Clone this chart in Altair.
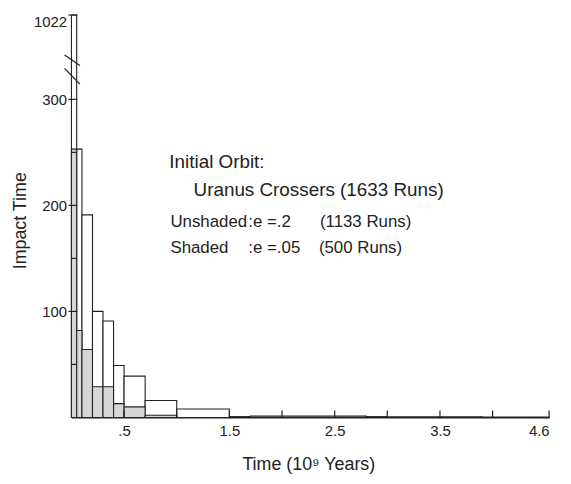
import altair as alt
import pandas as pd

# Histogram bins (10^9 years)
bin_lo = [0.0, 0.05, 0.1, 0.2, 0.3, 0.4, 0.5, 0.7, 1.0, 1.5, 1.7, 2.8, 3.0, 3.9]
bin_hi = [0.05, 0.1, 0.2, 0.3, 0.4, 0.5, 0.7, 1.0, 1.5, 1.7, 2.8, 3.0, 3.9, 4.6]
# Unshaded (e = .2) and shaded (e = .05) counts
unshaded = [1022, 253, 191, 100, 91, 49, 39, 16, 8, 0.8, 1.2, 0.8, 0.5, 0.3]
shaded = [253, 82, 64, 29, 29, 13, 10, 2, 0, 0, 0, 0, 0, 0]

x_label_values = [0.5, 1.5, 2.5, 3.5, 4.6]
x_tick_values = [0.5, 1.0, 1.5, 2.0, 2.5, 3.0, 3.5, 4.0, 4.6]
y_label_values = [100, 200, 300, 1022]
y_major_ticks = [100, 200, 300, 1022]
y_minor_ticks = [50, 150, 250]

head_text = ["Initial Orbit:", "Uranus Crossers (1633 Runs)"]
head_x = [0.93, 1.16]
head_y = [235, 209]

leg_text = ["Unshaded", ":e =.2", "(1133 Runs)",
            "Shaded", ":e =.05", "(500 Runs)"]
leg_x = [0.94, 1.68, 2.36, 0.94, 1.68, 2.35]
leg_y = [180, 180, 180, 155, 155, 155]

# axis break marks (data coords)
brk_x = [-0.065, -0.065]
brk_x2 = [0.08, 0.08]
brk_y = [680, 565]
brk_y2 = [590, 430]

FONT = "Liberation Sans"
INK = "#222222"

bars = pd.DataFrame({"lo": bin_lo, "hi": bin_hi, "u": unshaded, "s": shaded})
shaded_df = bars[bars["s"] > 0]

xs = alt.Scale(domain=[0, 4, 4.6], range=[0, 425, 482], nice=False, zero=False)
ys = alt.Scale(domain=[0, 300, 1022], range=[406, 85, 0], nice=False, zero=False)

x_axis = alt.Axis(values=x_label_values,
                  labelExpr="datum.value == 0.5 ? '.5' : format(datum.value, '.1f')",
                  ticks=False, tickSize=0, grid=False, domainColor=INK, domainWidth=1.3,
                  labelFont=FONT, labelFontSize=15, labelColor=INK, labelPadding=6,
                  title="Time (10⁹ Years)", titleFont=FONT, titleFontSize=18,
                  titleFontWeight="normal", titleColor=INK,
                  titleX=239, titleY=53, titleBaseline="alphabetic", titleAlign="center")
y_axis = alt.Axis(values=y_label_values, labelExpr="format(datum.value, 'd')",
                  ticks=False, tickSize=0, grid=False, domainColor=INK, domainWidth=1.3,
                  labelFont=FONT, labelFontSize=15, labelColor=INK, labelPadding=5,
                  labelFlush=True,
                  title="Impact Time", titleFont=FONT, titleFontSize=18,
                  titleFontWeight="normal", titleColor=INK,
                  titleX=-51, titleY=207, titleAngle=270,
                  titleBaseline="middle", titleAlign="center")

unshaded_layer = alt.Chart(bars).mark_rect(fill="white", stroke=INK, strokeWidth=1.1).encode(
    x=alt.X("lo:Q", scale=xs, axis=x_axis),
    x2="hi:Q",
    y=alt.Y("u:Q", scale=ys, axis=y_axis),
    y2=alt.datum(0),
)
shaded_layer = alt.Chart(shaded_df).mark_rect(fill="#d6d6d6", stroke=INK, strokeWidth=1.1).encode(
    x=alt.X("lo:Q", scale=xs),
    x2="hi:Q",
    y=alt.Y("s:Q", scale=ys),
    y2=alt.datum(0),
)

xt = alt.Chart(pd.DataFrame({"t": x_tick_values})).mark_rule(color=INK, strokeWidth=1.2).encode(
    x=alt.X("t:Q", scale=xs), y=alt.value(406), y2=alt.value(399))
ytm = alt.Chart(pd.DataFrame({"v": y_major_ticks})).mark_rule(color=INK, strokeWidth=1.2).encode(
    y=alt.Y("v:Q", scale=ys), x=alt.value(-3), x2=alt.value(6))
ytn = alt.Chart(pd.DataFrame({"v": y_minor_ticks})).mark_rule(color=INK, strokeWidth=1.2).encode(
    y=alt.Y("v:Q", scale=ys), x=alt.value(0), x2=alt.value(5))

brk = alt.Chart(pd.DataFrame({"x": brk_x, "x2": brk_x2, "y": brk_y, "y2": brk_y2})).mark_rule(
    color=INK, strokeWidth=1.3).encode(
    x=alt.X("x:Q", scale=xs), x2="x2:Q", y=alt.Y("y:Q", scale=ys), y2="y2:Q")

head = alt.Chart(pd.DataFrame({"x": head_x, "y": head_y, "text": head_text})).mark_text(
    align="left", baseline="alphabetic", font=FONT, fontSize=19, color=INK).encode(
    x=alt.X("x:Q", scale=xs), y=alt.Y("y:Q", scale=ys), text="text:N")
leg = alt.Chart(pd.DataFrame({"x": leg_x, "y": leg_y, "text": leg_text})).mark_text(
    align="left", baseline="alphabetic", font=FONT, fontSize=17, color=INK).encode(
    x=alt.X("x:Q", scale=xs), y=alt.Y("y:Q", scale=ys), text="text:N")

chart = alt.layer(unshaded_layer, shaded_layer, xt, ytm, ytn, brk, head, leg).properties(
    width=482, height=406,
    autosize=alt.AutoSizeParams(type="none"),
    padding={"left": 64, "top": 5, "right": 14, "bottom": 62},
).configure(background="white").configure_view(strokeWidth=0)

chart.save("out.html", embed_options={"renderer": "svg", "actions": False})
